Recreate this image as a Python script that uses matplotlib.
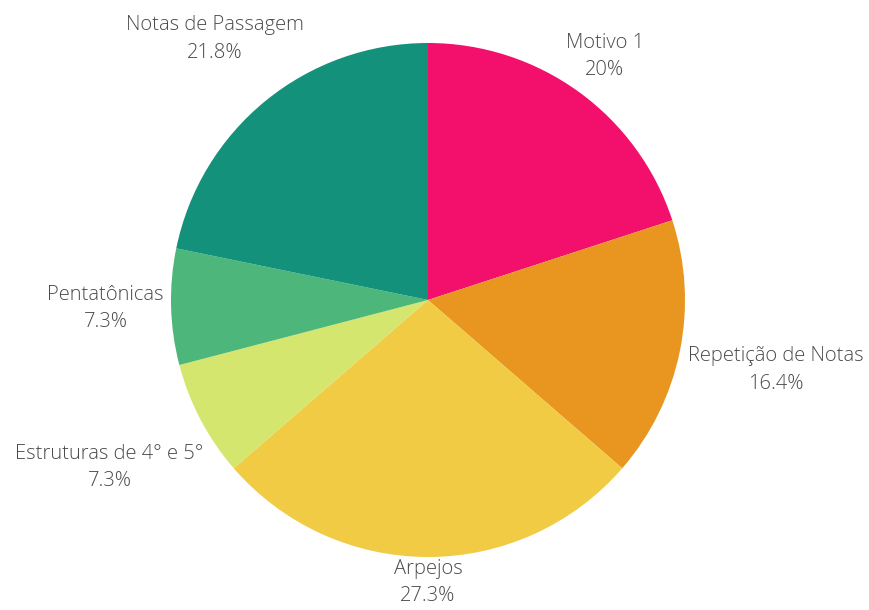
import numpy as np
import matplotlib
matplotlib.use("Agg")
import matplotlib.pyplot as plt

labels = ["Motivo 1", "Repetição de Notas", "Arpejos", "Estruturas de 4° e 5°",
          "Pentatônicas", "Notas de Passagem"]
values = [20, 16.4, 27.3, 7.3, 7.3, 21.8]
pct_text = ["20%", "16.4%", "27.3%", "7.3%", "7.3%", "21.8%"]
colors = ["#F2106C", "#E8961F", "#F2CB44", "#D5E66E", "#4DB67A", "#14917B"]
label_dist = [1.17, 1.38, 1.10, 1.40, 1.255, 1.31]

W, H, DPI = 869, 610, 100
cx, cy, R = 428, 300, 257

fig = plt.figure(figsize=(W / DPI, H / DPI), dpi=DPI)
ax = fig.add_axes([0, 0, 1, 1])
ax.axis("off")

wedges, _ = ax.pie(values, colors=colors, startangle=90, counterclock=False,
                   radius=1, center=(0, 0), wedgeprops=dict(linewidth=0))
ax.set_xlim(-cx / R, (W - cx) / R)
ax.set_ylim(-(H - cy) / R, cy / R)
ax.set_aspect("auto")

for w, lab, pt, d in zip(wedges, labels, pct_text, label_dist):
    ang = np.deg2rad((w.theta1 + w.theta2) / 2)
    x, y = d * np.cos(ang), d * np.sin(ang)
    ax.text(x, y, f"{lab}\n{pt}", ha="center", va="center", fontsize=14.5,
            family=["Open Sans", "DejaVu Sans"], fontweight=300, color="#4a4a4a",
            linespacing=1.5)

fig.savefig("out.png", dpi=DPI, facecolor="white")
